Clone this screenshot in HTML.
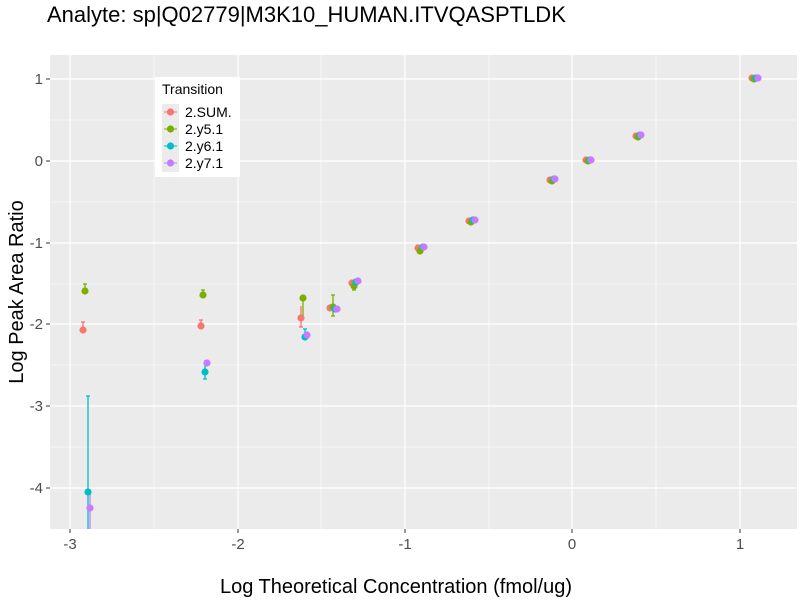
<!DOCTYPE html>
<html><head><meta charset="utf-8"><style>body{margin:0;background:#fff}</style></head><body>
<svg width="800" height="600" xmlns="http://www.w3.org/2000/svg" font-family="Liberation Sans, sans-serif">
<rect x="0" y="0" width="800" height="600" fill="#fff"/>
<text x="47" y="22" font-size="22" fill="#000">Analyte: sp|Q02779|M3K10_HUMAN.ITVQASPTLDK</text>
<rect x="50" y="55" width="747" height="474" fill="#EBEBEB"/>
<g stroke="#fff" stroke-width="0.6">
<line x1="50" x2="797" y1="120" y2="120"/><line x1="50" x2="797" y1="202" y2="202"/><line x1="50" x2="797" y1="284" y2="284"/><line x1="50" x2="797" y1="365" y2="365"/><line x1="50" x2="797" y1="447" y2="447"/>
<line y1="55" y2="529" x1="154" x2="154"/><line y1="55" y2="529" x1="321" x2="321"/><line y1="55" y2="529" x1="489" x2="489"/><line y1="55" y2="529" x1="656" x2="656"/>
</g>
<g stroke="#fff" stroke-width="1.2">
<line x1="50" x2="797" y1="79" y2="79"/><line x1="50" x2="797" y1="161" y2="161"/><line x1="50" x2="797" y1="243" y2="243"/><line x1="50" x2="797" y1="324" y2="324"/><line x1="50" x2="797" y1="406" y2="406"/><line x1="50" x2="797" y1="488" y2="488"/>
<line y1="55" y2="529" x1="70" x2="70"/><line y1="55" y2="529" x1="238" x2="238"/><line y1="55" y2="529" x1="405" x2="405"/><line y1="55" y2="529" x1="572" x2="572"/><line y1="55" y2="529" x1="740" x2="740"/>
</g>
<g stroke="#333" stroke-width="1">
<line x1="46" x2="50" y1="79" y2="79"/><line x1="46" x2="50" y1="161" y2="161"/><line x1="46" x2="50" y1="243" y2="243"/><line x1="46" x2="50" y1="324" y2="324"/><line x1="46" x2="50" y1="406" y2="406"/><line x1="46" x2="50" y1="488" y2="488"/>
<line y1="529" y2="533" x1="70" x2="70"/><line y1="529" y2="533" x1="238" x2="238"/><line y1="529" y2="533" x1="405" x2="405"/><line y1="529" y2="533" x1="572" x2="572"/><line y1="529" y2="533" x1="740" x2="740"/>
</g>
<g font-size="15" fill="#4D4D4D" text-anchor="end">
<text x="43" y="84">1</text><text x="43" y="166">0</text><text x="43" y="248">-1</text><text x="43" y="329">-2</text><text x="43" y="411">-3</text><text x="43" y="493">-4</text>
</g>
<g font-size="15" fill="#4D4D4D" text-anchor="middle">
<text x="70" y="549">-3</text><text x="238" y="549">-2</text><text x="405" y="549">-1</text><text x="572" y="549">0</text><text x="740" y="549">1</text>
</g>
<text x="396" y="593" font-size="20" text-anchor="middle">Log Theoretical Concentration (fmol/ug)</text>
<text transform="translate(23,292) rotate(-90)" font-size="20" text-anchor="middle">Log Peak Area Ratio</text>
<g stroke-width="1.3">
<g stroke="#F8766D"><line x1="83" x2="83" y1="322" y2="332"/><line x1="81" x2="85" y1="322" y2="322"/><line x1="201" x2="201" y1="320" y2="328"/><line x1="199" x2="203" y1="320" y2="320"/><line x1="301" x2="301" y1="306" y2="327"/><line x1="299" x2="303" y1="327" y2="327"/></g>
<g stroke="#7CAE00"><line x1="85" x2="85" y1="284" y2="293"/><line x1="83" x2="87" y1="284" y2="284"/><line x1="203" x2="203" y1="290" y2="296"/><line x1="201" x2="205" y1="290" y2="290"/><line x1="303" x2="303" y1="298" y2="318"/><line x1="333" x2="333" y1="295" y2="316"/><line x1="331" x2="335" y1="295" y2="295"/><line x1="331" x2="335" y1="316" y2="316"/><line x1="354" x2="354" y1="284" y2="290"/><line x1="352" x2="356" y1="290" y2="290"/></g>
<g stroke="#00BFC4"><line x1="88" x2="88" y1="396" y2="529"/><line x1="86" x2="90" y1="396" y2="396"/><line x1="205" x2="205" y1="360" y2="379"/><line x1="203" x2="207" y1="379" y2="379"/><line x1="305" x2="305" y1="329" y2="337"/><line x1="303" x2="307" y1="329" y2="329"/></g>
<g stroke="#C77CFF"><line x1="90" x2="90" y1="489" y2="529"/><line x1="207" x2="207" y1="360" y2="364"/></g>
</g>
<g fill="#F8766D">
<circle cx="83" cy="330" r="3.6"/><circle cx="201" cy="326" r="3.6"/><circle cx="301" cy="318" r="3.6"/><circle cx="330" cy="308" r="3.6"/><circle cx="352" cy="283" r="3.6"/><circle cx="418" cy="248" r="3.6"/><circle cx="469" cy="221" r="3.6"/><circle cx="550" cy="180" r="3.6"/><circle cx="586" cy="160" r="3.6"/><circle cx="636" cy="136" r="3.6"/><circle cx="752" cy="78" r="3.6"/>
</g>
<g fill="#7CAE00">
<circle cx="85" cy="291" r="3.6"/><circle cx="203" cy="295" r="3.6"/><circle cx="303" cy="298" r="3.6"/><circle cx="333" cy="307" r="3.6"/><circle cx="354" cy="286" r="3.6"/><circle cx="420" cy="251" r="3.6"/><circle cx="471" cy="222" r="3.6"/><circle cx="552" cy="181" r="3.6"/><circle cx="588" cy="161" r="3.6"/><circle cx="638" cy="137" r="3.6"/><circle cx="754" cy="79" r="3.6"/>
</g>
<g fill="#00BFC4">
<circle cx="88" cy="492" r="3.6"/><circle cx="205" cy="372" r="3.6"/><circle cx="305" cy="337" r="3.6"/><circle cx="335" cy="309" r="3.6"/><circle cx="356" cy="282" r="3.6"/><circle cx="423" cy="247" r="3.6"/><circle cx="473" cy="220" r="3.6"/><circle cx="554" cy="179" r="3.6"/><circle cx="590" cy="160" r="3.6"/><circle cx="640" cy="135" r="3.6"/><circle cx="756" cy="78" r="3.6"/>
</g>
<g fill="#C77CFF">
<circle cx="90" cy="508" r="3.6"/><circle cx="207" cy="363" r="3.6"/><circle cx="307" cy="335" r="3.6"/><circle cx="337" cy="309" r="3.6"/><circle cx="358" cy="281" r="3.6"/><circle cx="424" cy="247" r="3.6"/><circle cx="475" cy="220" r="3.6"/><circle cx="555" cy="179" r="3.6"/><circle cx="591" cy="160" r="3.6"/><circle cx="641" cy="135" r="3.6"/><circle cx="758" cy="78" r="3.6"/>
</g>
<rect x="155" y="77" width="85" height="100" fill="#fff"/>
<text x="162" y="94" font-size="14">Transition</text>
<g font-size="14" fill="#000">
<rect x="162" y="104" width="17" height="17" fill="#EBEBEB"/><line x1="164" x2="177" y1="112" y2="112" stroke="#F8766D"/><circle cx="170.5" cy="112" r="3.6" fill="#F8766D"/><text x="185" y="117">2.SUM.</text>
<rect x="162" y="121" width="17" height="17" fill="#EBEBEB"/><line x1="164" x2="177" y1="129" y2="129" stroke="#7CAE00"/><circle cx="170.5" cy="129" r="3.6" fill="#7CAE00"/><text x="185" y="134">2.y5.1</text>
<rect x="162" y="138" width="17" height="17" fill="#EBEBEB"/><line x1="164" x2="177" y1="146" y2="146" stroke="#00BFC4"/><circle cx="170.5" cy="146" r="3.6" fill="#00BFC4"/><text x="185" y="151">2.y6.1</text>
<rect x="162" y="155" width="17" height="17" fill="#EBEBEB"/><line x1="164" x2="177" y1="163" y2="163" stroke="#C77CFF"/><circle cx="170.5" cy="163" r="3.6" fill="#C77CFF"/><text x="185" y="168">2.y7.1</text>
</g>
</svg>
</body></html>
